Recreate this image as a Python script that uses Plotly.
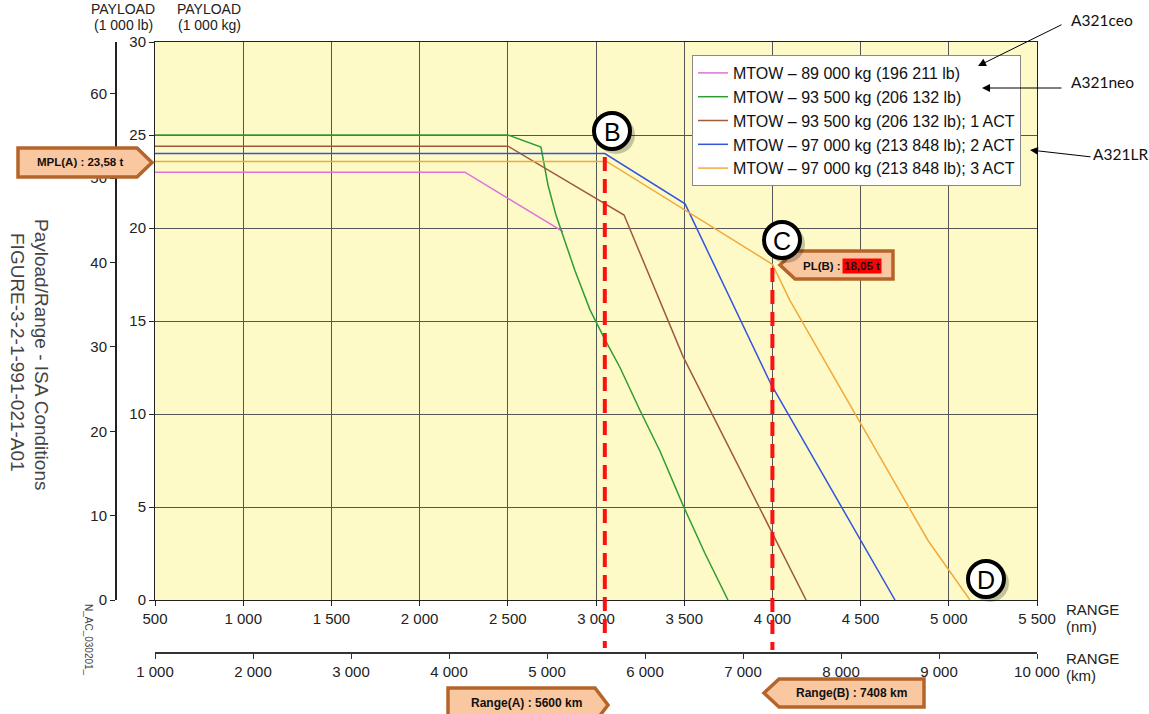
import plotly.graph_objects as go

# ---------------- data ----------------
range_nm_ticks = [500, 1000, 1500, 2000, 2500, 3000, 3500, 4000, 4500, 5000, 5500]
range_nm_labels = ["500", "1 000", "1 500", "2 000", "2 500", "3 000", "3 500",
                   "4 000", "4 500", "5 000", "5 500"]
range_km_ticks = [1000, 2000, 3000, 4000, 5000, 6000, 7000, 8000, 9000, 10000]
range_km_labels = ["1 000", "2 000", "3 000", "4 000", "5 000", "6 000", "7 000",
                   "8 000", "9 000", "10 000"]
payload_t_ticks = [0, 5, 10, 15, 20, 25, 30]
payload_lb_ticks = [0, 10, 20, 30, 40, 50, 60]

series_names = [
    "MTOW – 89 000 kg (196 211 lb)",
    "MTOW – 93 500 kg (206 132 lb)",
    "MTOW – 93 500 kg (206 132 lb); 1 ACT",
    "MTOW – 97 000 kg (213 848 lb); 2 ACT",
    "MTOW – 97 000 kg (213 848 lb); 3 ACT",
]
series_colors = ["#e070dc", "#2e9e32", "#a05a3a", "#3355dd", "#f0aa3c"]

mtow89_nm = [500, 2257, 2813]
mtow89_t = [23.0, 23.0, 19.8]

mtow935_nm = [500, 2501, 2688, 2728, 2773, 2813, 2881, 2966, 3051, 3136, 3249, 3363, 3493, 3618, 3748]
mtow935_t = [25.0, 25.0, 24.35, 22.3, 20.7, 19.6, 17.7, 15.6, 14.0, 12.5, 10.2, 8.0, 5.1, 2.5, 0.0]

mtow935_1act_nm = [500, 2501, 3159, 3493, 4191]
mtow935_1act_t = [24.4, 24.4, 20.7, 13.1, 0.0]

mtow97_2act_nm = [500, 3050, 3505, 3992, 4695]
mtow97_2act_t = [24.0, 24.0, 21.3, 11.6, 0.0]

mtow97_3act_nm = [500, 3060, 4000, 4100, 4882, 5120]
mtow97_3act_t = [23.58, 23.58, 18.05, 16.1, 3.2, 0.0]

series_x = [mtow89_nm, mtow935_nm, mtow935_1act_nm, mtow97_2act_nm, mtow97_3act_nm]
series_y = [mtow89_t, mtow935_t, mtow935_1act_t, mtow97_2act_t, mtow97_3act_t]

marker_lines_nm = [3050, 4000]      # Range(A), Range(B) dashed lines
LB_PER_T = 2.20462

# ---------------- geometry helpers (screen pixels -> paper) ----------------
W, H = 1149, 714
ML, MR, MT, MB = 116, 112, 42, 61
PW = W - ML - MR
PH = H - MT - MB


def px(X):
    return (X - ML) / PW


def py(Y):
    return (H - MB - Y) / PH


FONT = "Liberation Sans, Arial, Helvetica, sans-serif"

fig = go.Figure()
for nm, t, name, col in zip(series_x, series_y, series_names, series_colors):
    fig.add_trace(go.Scatter(x=nm, y=t, mode="lines", name=name,
                             line=dict(color=col, width=1.5)))

# dummy traces to activate secondary axes
fig.add_trace(go.Scatter(x=[range_km_ticks[0], range_km_ticks[-1]], y=[None, None],
                         xaxis="x2", yaxis="y", mode="lines", showlegend=False, hoverinfo="skip"))
fig.add_trace(go.Scatter(x=[None, None], y=[0, 60], xaxis="x", yaxis="y2",
                         mode="lines", showlegend=False, hoverinfo="skip"))

tickfont = dict(family=FONT, size=15, color="#222")

fig.update_layout(
    width=W, height=H,
    margin=dict(l=ML, r=MR, t=MT, b=MB),
    paper_bgcolor="white",
    plot_bgcolor="#fdfac8",
    font=dict(family=FONT, color="#222"),
    showlegend=True,
    legend=dict(x=px(692), y=py(55), xanchor="left", yanchor="top",
                bgcolor="white", bordercolor="#888", borderwidth=1,
                font=dict(family=FONT, size=16, color="#111")),
    xaxis=dict(domain=[px(155), 1], range=[500, 5500], tickvals=range_nm_ticks,
               ticktext=range_nm_labels, ticks="outside", ticklen=5, tickcolor="#222",
               showline=True, linecolor="#222", linewidth=1, mirror=True,
               showgrid=True, gridcolor="#555", gridwidth=1, zeroline=False,
               tickfont=tickfont, anchor="y"),
    yaxis=dict(domain=[py(600), 1], range=[0, 30], tickvals=payload_t_ticks,
               ticks="outside", ticklen=5, tickcolor="#222",
               showline=True, linecolor="#222", linewidth=1, mirror=True,
               showgrid=True, gridcolor="#555", gridwidth=1, zeroline=False,
               tickfont=tickfont, anchor="x"),
    xaxis2=dict(overlaying="x", anchor="free", position=0, side="bottom",
                range=[1000, 10000], tickvals=range_km_ticks, ticktext=range_km_labels,
                ticks="outside", ticklen=5, tickcolor="#333",
                showline=True, linecolor="#333", linewidth=2, showgrid=False,
                zeroline=False, tickfont=tickfont),
    yaxis2=dict(overlaying="y", anchor="free", position=0, side="left",
                range=[0, 30 * LB_PER_T], tickvals=payload_lb_ticks,
                ticks="outside", ticklen=5, tickcolor="#222",
                showline=True, linecolor="#222", linewidth=2, showgrid=False,
                zeroline=False, tickfont=tickfont),
)

shapes = []
# dashed range lines
shapes.append(dict(type="line", xref="x", yref="paper", x0=marker_lines_nm[0], x1=marker_lines_nm[0],
                   y0=py(157), y1=py(648), line=dict(color="#ff1010", width=4, dash="14px,8px"),
                   layer="above"))
shapes.append(dict(type="line", xref="x", yref="paper", x0=marker_lines_nm[1], x1=marker_lines_nm[1],
                   y0=py(268), y1=py(650), line=dict(color="#ff1010", width=4, dash="14px,8px"),
                   layer="above"))

BOX_FILL = "#f9c7a0"
BOX_LINE = "#b5652a"


def pent_right(x0, x1, tip, y0, y1):
    ym = (y0 + y1) / 2
    return (f"M{px(x0)},{py(y0)} L{px(x1)},{py(y0)} L{px(tip)},{py(ym)} "
            f"L{px(x1)},{py(y1)} L{px(x0)},{py(y1)} Z")


def pent_left(tip, x0, x1, y0, y1):
    ym = (y0 + y1) / 2
    return (f"M{px(tip)},{py(ym)} L{px(x0)},{py(y0)} L{px(x1)},{py(y0)} "
            f"L{px(x1)},{py(y1)} L{px(x0)},{py(y1)} Z")


for p in [pent_right(18, 137, 152, 148, 177),
          pent_left(780, 795, 893, 251, 279),
          pent_right(448, 595, 608, 688, 722),
          pent_left(764, 779, 924, 679, 707)]:
    shapes.append(dict(type="path", xref="paper", yref="paper", path=p,
                       fillcolor=BOX_FILL, line=dict(color=BOX_LINE, width=3.5), layer="above"))

# circled letters
circles = [(612, 131), (782, 240), (986, 579)]
R = 18
for cx, cy in circles:
    shapes.append(dict(type="circle", xref="paper", yref="paper",
                       x0=px(cx - R + 3), x1=px(cx + R + 5), y0=py(cy + R + 5), y1=py(cy - R + 3),
                       fillcolor="rgba(0,0,0,0.22)", line=dict(width=0), layer="above"))
    shapes.append(dict(type="circle", xref="paper", yref="paper",
                       x0=px(cx - R), x1=px(cx + R), y0=py(cy + R), y1=py(cy - R),
                       fillcolor="white", line=dict(color="black", width=4), layer="above"))

fig.update_layout(shapes=shapes)

ann = []


def txt(text, X, Y, size, xanchor="center", angle=0, color="#222", family=FONT, bg=None):
    d = dict(text=text, x=px(X), y=py(Y), xref="paper", yref="paper", showarrow=False,
             xanchor=xanchor, yanchor="middle", textangle=angle,
             font=dict(family=family, size=size, color=color))
    if bg:
        d["bgcolor"] = bg
        d["borderpad"] = 1
    ann.append(d)


# axis titles
txt("PAYLOAD", 123, 8.5, 14)
txt("(1 000 lb)", 123, 25, 14)
txt("PAYLOAD", 209, 8.5, 14)
txt("(1 000 kg)", 209, 25, 14)
txt("RANGE", 1064, 609, 15, xanchor="left")
txt("(nm)", 1064, 626, 15, xanchor="left")
txt("RANGE", 1064, 658, 15, xanchor="left")
txt("(km)", 1064, 675, 15, xanchor="left")

# side titles
txt("Payload/Range - ISA Conditions", 42, 354, 19, angle=90, color="#444")
txt("FIGURE-3-2-1-991-021-A01", 18, 352, 19, angle=90, color="#444")
txt("N_AC_030201_", 89, 640, 10, angle=90, color="#444")

# callout texts
txt("<b>MPL(A) : 23,58 t</b>", 80, 162, 11.5, color="#111")
txt("<b>PL(B) :</b>", 822, 266, 11.5, color="#111")
txt("<b>18,05 t</b>", 862, 266, 11.5, color="#111", bg="#ff0000")
txt("<b>Range(A) : 5600 km</b>", 526, 703, 12, color="#111")
txt("<b>Range(B) : 7408 km</b>", 851, 693, 12, color="#111")

# circle letters
for (cx, cy), letter in zip(circles, ["B", "C", "D"]):
    txt(letter, cx, cy + 1, 25, color="black")

# right-side aircraft labels
SIDE_FONT = "Lato, Carlito, Calibri, sans-serif"
txt("A321ceo", 1069, 20, 15.5, xanchor="left", color="#111", family=SIDE_FONT)
txt("A321neo", 1069, 82, 15.5, xanchor="left", color="#111", family=SIDE_FONT)
txt("A321LR", 1091, 154, 15.5, xanchor="left", color="#111", family=SIDE_FONT)

arrows = [((978, 66), (1063, 24)), ((982, 88), (1063, 88)), ((1030, 150), (1092, 157))]
for (hx, hy), (tx, ty) in arrows:
    ann.append(dict(text="", x=px(hx), y=py(hy), xref="paper", yref="paper",
                    ax=tx - hx, ay=ty - hy, axref="pixel", ayref="pixel",
                    showarrow=True, arrowhead=2, arrowsize=1.6, arrowwidth=1,
                    arrowcolor="black"))

fig.update_layout(annotations=ann)

# remove the browser's default page margin so the figure sits at the window origin
fig.write_html("out.html", config={"displayModeBar": False},
               post_script="document.body.style.margin='0';")
